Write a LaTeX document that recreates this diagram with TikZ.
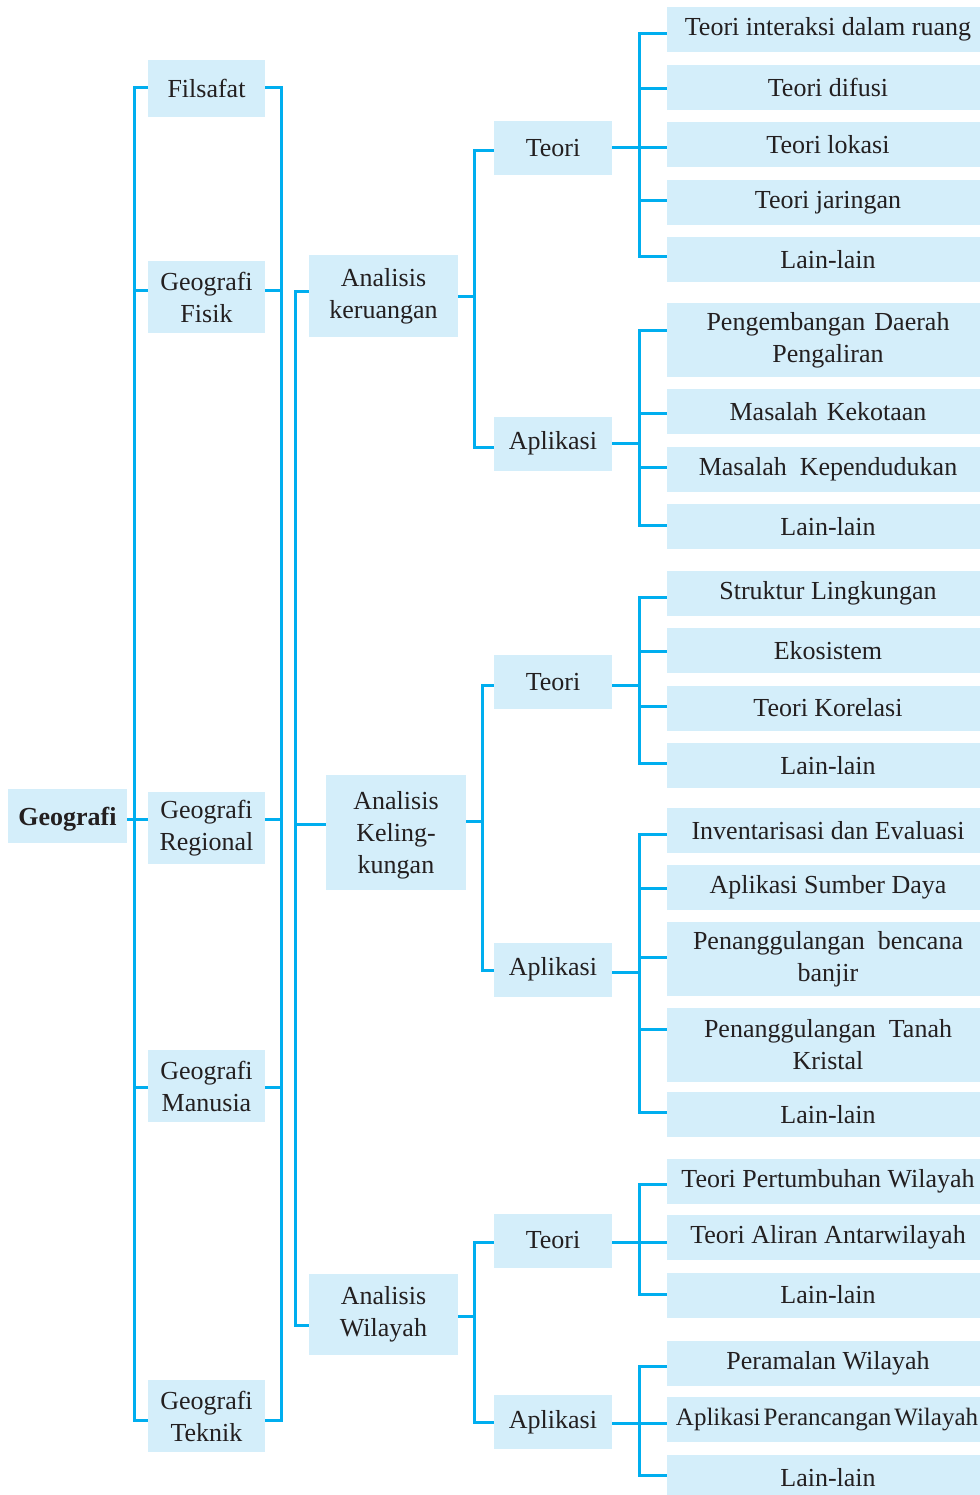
\documentclass[tikz,border=0pt]{standalone}
\usepackage{fontspec}
\setmainfont{Liberation Serif}
\definecolor{boxfill}{HTML}{D4EEFA}
\definecolor{ink}{HTML}{231F20}
\definecolor{linkblue}{HTML}{00AEEF}
\begin{document}
\begin{tikzpicture}[x=1pt,y=-1pt,
  box/.style={fill=boxfill, text=ink, inner sep=0pt, align=center,
              font=\fontsize{26}{32}\selectfont},
  lvone/.style={box, minimum width=117pt, minimum height=72pt},
  lvthree/.style={box, minimum width=118pt, minimum height=54pt},
  leaf/.style={box, minimum width=322pt, minimum height=45pt},
  leaftwo/.style={box, minimum width=322pt, minimum height=74pt},
  link/.style={draw=linkblue, line width=3pt, line join=miter}]
\useasboundingbox (0,0) rectangle (979,1495);

% ---- root and first level ----
\node[box, minimum width=119pt, minimum height=54pt,
      font=\fontsize{26}{32}\selectfont\bfseries] (geo) at (67.5,816)
     {\raisebox{-3pt}[\height][\depth]{Geografi}};
\node[lvone, minimum height=57pt] (fil) at (206.5,88.5) {Filsafat};
\node[lvone] (fis) at (206.5,297) {Geografi\\Fisik};
\node[lvone] (reg) at (206.5,828) {Geografi\\Regional};
\node[lvone] (man) at (206.5,1086) {Geografi\\Manusia};
\node[lvone] (tek) at (206.5,1416) {Geografi\\Teknik};

% ---- second level ----
\node[box, minimum width=149pt, minimum height=82pt] (ak) at (383.5,296) {Analisis\\keruangan};
\node[box, minimum width=140pt, minimum height=115pt] (al) at (396,832) {Analisis\\Keling-\\\smash{kungan}};
\node[box, minimum width=149pt, minimum height=81pt] (aw) at (383.5,1314.5) {Analisis\\Wilayah};

% ---- third level ----
\node[lvthree] (kt) at (553,148) {Teori};
\node[lvthree] (ka) at (553,443.5) {Aplikasi};
\node[lvthree] (lt) at (553,682) {Teori};
\node[lvthree] (la) at (553,969.5) {Aplikasi};
\node[lvthree] (wt) at (553,1240.5) {Teori};
\node[lvthree] (wa) at (553,1422) {Aplikasi};

% ---- leaves ----
\node[leaf] (k1) at (828,29.5) {Teori interaksi dalam ruang};
\node[leaf] (k2) at (828,87.5) {Teori difusi};
\node[leaf] (k3) at (828,144.5) {Teori lokasi};
\node[leaf] (k4) at (828,202.5) {Teori jaringan};
\node[leaf] (k5) at (828,260) {Lain-lain};
\node[leaftwo] (p1) at (828,340) {Pengembangan\hspace{0.1em} Daerah\\Pengaliran};
\node[leaf] (p2) at (828,411.5) {Masalah\hspace{0.1em} Kekotaan};
\node[leaf] (p3) at (828,469.5) {Masalah\hspace{0.25em} Kependudukan};
\node[leaf] (p4) at (828,526.5) {Lain-lain};
\node[leaf] (s1) at (828,593.5) {Struktur Lingkungan};
\node[leaf] (s2) at (828,650.5) {Ekosistem};
\node[leaf] (s3) at (828,708) {Teori Korelasi};
\node[leaf] (s4) at (828,765.5) {Lain-lain};
\node[leaf] (q1) at (828,830.5) {Inventarisasi dan Evaluasi};
\node[leaf] (q2) at (828,887) {Aplikasi Sumber Daya};
\node[leaftwo] (q3) at (828,959) {Penanggulangan\hspace{0.25em} bencana\\banjir};
\node[leaftwo] (q4) at (828,1044.5) {Penanggulangan\hspace{0.25em} Tanah\\Kristal};
\node[leaf] (q5) at (828,1114.5) {Lain-lain};
\node[leaf] (w1) at (828,1181) {Teori Pertumbuhan Wilayah};
\node[leaf] (w2) at (828,1237.5) {Teori Aliran Antarwilayah};
\node[leaf] (w3) at (828,1295) {Lain-lain};
\node[leaf] (v1) at (828,1363) {Peramalan Wilayah};
\node[leaf, font=\fontsize{25}{32}\selectfont] (v2) at (828,1419.5)
     {Aplikasi\hspace{3pt}Perancangan\hspace{3pt}Wilayah\hspace{2pt}};
\node[leaf] (v3) at (828,1477.5) {Lain-lain};

% ---- connectors: first level brackets ----
\draw[link] (fil.west|-0,88) -- (134,88) -- (134,1420) -- (tek.west|-0,1420);
\draw[link] (geo.east|-0,819) -- (reg.west|-0,819);
\draw[link] (134,291) -- (fis.west|-0,291);
\draw[link] (134,1087) -- (man.west|-0,1087);
\draw[link] (fil.east|-0,88) -- (281,88) -- (281,1420) -- (tek.east|-0,1420);
\draw[link] (fis.east|-0,291) -- (281,291);
\draw[link] (reg.east|-0,819) -- (281,819);
\draw[link] (man.east|-0,1087) -- (281,1087);

% ---- second level bracket ----
\draw[link] (ak.west|-0,292) -- (295,292) -- (295,1325) -- (aw.west|-0,1325);
\draw[link] (295,824) -- (al.west|-0,824);

% ---- third level brackets ----
\draw[link] (ak.east|-0,297) -- (474,297);
\draw[link] (kt.west|-0,151) -- (474,151) -- (474,447) -- (ka.west|-0,447);
\draw[link] (al.east|-0,821) -- (482,821);
\draw[link] (lt.west|-0,685) -- (482,685) -- (482,970) -- (la.west|-0,970);
\draw[link] (aw.east|-0,1316) -- (474,1316);
\draw[link] (wt.west|-0,1242) -- (474,1242) -- (474,1422) -- (wa.west|-0,1422);

% ---- leaf brackets ----
\draw[link] (k1.west|-0,34) -- (639,34) -- (639,257) -- (k5.west|-0,257);
\draw[link] (kt.east|-0,148) -- (k3.west|-0,148);
\draw[link] (639,89) -- (k2.west|-0,89);
\draw[link] (639,201) -- (k4.west|-0,201);

\draw[link] (p1.west|-0,330) -- (639,330) -- (639,525) -- (p4.west|-0,525);
\draw[link] (ka.east|-0,443) -- (639,443);
\draw[link] (639,413) -- (p2.west|-0,413);
\draw[link] (639,467) -- (p3.west|-0,467);

\draw[link] (s1.west|-0,597) -- (639,597) -- (639,763) -- (s4.west|-0,763);
\draw[link] (lt.east|-0,685) -- (639,685);
\draw[link] (639,651) -- (s2.west|-0,651);
\draw[link] (639,706) -- (s3.west|-0,706);

\draw[link] (q1.west|-0,834) -- (639,834) -- (639,1112) -- (q5.west|-0,1112);
\draw[link] (la.east|-0,972) -- (639,972);
\draw[link] (639,888) -- (q2.west|-0,888);
\draw[link] (639,957) -- (q3.west|-0,957);
\draw[link] (639,1029) -- (q4.west|-0,1029);

\draw[link] (w1.west|-0,1184) -- (639,1184) -- (639,1294) -- (w3.west|-0,1294);
\draw[link] (wt.east|-0,1242) -- (w2.west|-0,1242);

\draw[link] (v1.west|-0,1366) -- (639,1366) -- (639,1475) -- (v3.west|-0,1475);
\draw[link] (wa.east|-0,1423) -- (v2.west|-0,1423);
\end{tikzpicture}
\end{document}
